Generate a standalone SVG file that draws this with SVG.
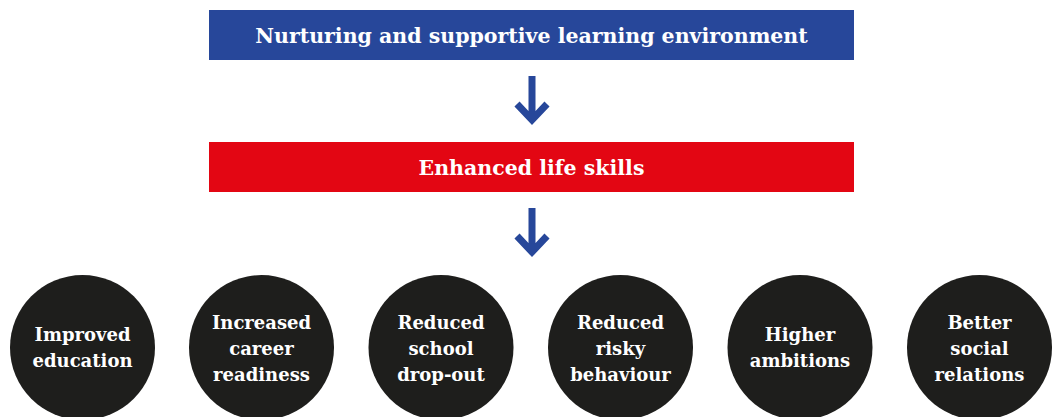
<svg xmlns="http://www.w3.org/2000/svg" width="1053" height="417" viewBox="0 0 1053 417">
<style>
.t{font-family:"DejaVu Serif","Liberation Serif",serif;font-weight:bold;fill:#fff;text-anchor:middle}
.h{font-size:20.5px}
.c{font-size:18px}
.circ{fill:#1e1e1c}
.arr{fill:none;stroke:#27479a;stroke-width:7}
</style>
<rect width="1053" height="417" fill="#fff"/>
<g id="top">
<rect x="209" y="10" width="645" height="50" fill="#27479a"/>
<text class="t h" x="531.5" y="43">Nurturing and supportive learning environment</text>
</g>
<g id="mid">
<rect x="209" y="142" width="645" height="50" fill="#e30613"/>
<text class="t h" x="531.5" y="175">Enhanced life skills</text>
</g>
<g id="connectors">
<path class="arr" d="M532 76V121M517 104L532 120L547 104"/>
<path class="arr" d="M532 208V253M517 236L532 252L547 236"/>
</g>
<g id="n1"><circle class="circ" cx="82.5" cy="347.5" r="72.5"/><text class="t c" x="82.5" y="341">Improved</text><text class="t c" x="82.5" y="367">education</text></g>
<g id="n2"><circle class="circ" cx="261.5" cy="347.5" r="72.5"/><text class="t c" x="261.5" y="329">Increased</text><text class="t c" x="261.5" y="355">career</text><text class="t c" x="261.5" y="381">readiness</text></g>
<g id="n3"><circle class="circ" cx="441" cy="347.5" r="72.5"/><text class="t c" x="441" y="329">Reduced</text><text class="t c" x="441" y="355">school</text><text class="t c" x="441" y="381">drop-out</text></g>
<g id="n4"><circle class="circ" cx="620.5" cy="347.5" r="72.5"/><text class="t c" x="620.5" y="329">Reduced</text><text class="t c" x="620.5" y="355">risky</text><text class="t c" x="620.5" y="381">behaviour</text></g>
<g id="n5"><circle class="circ" cx="800" cy="347.5" r="72.5"/><text class="t c" x="800" y="341">Higher</text><text class="t c" x="800" y="367">ambitions</text></g>
<g id="n6"><circle class="circ" cx="979.5" cy="347.5" r="72.5"/><text class="t c" x="979.5" y="329">Better</text><text class="t c" x="979.5" y="355">social</text><text class="t c" x="979.5" y="381">relations</text></g>
</svg>
